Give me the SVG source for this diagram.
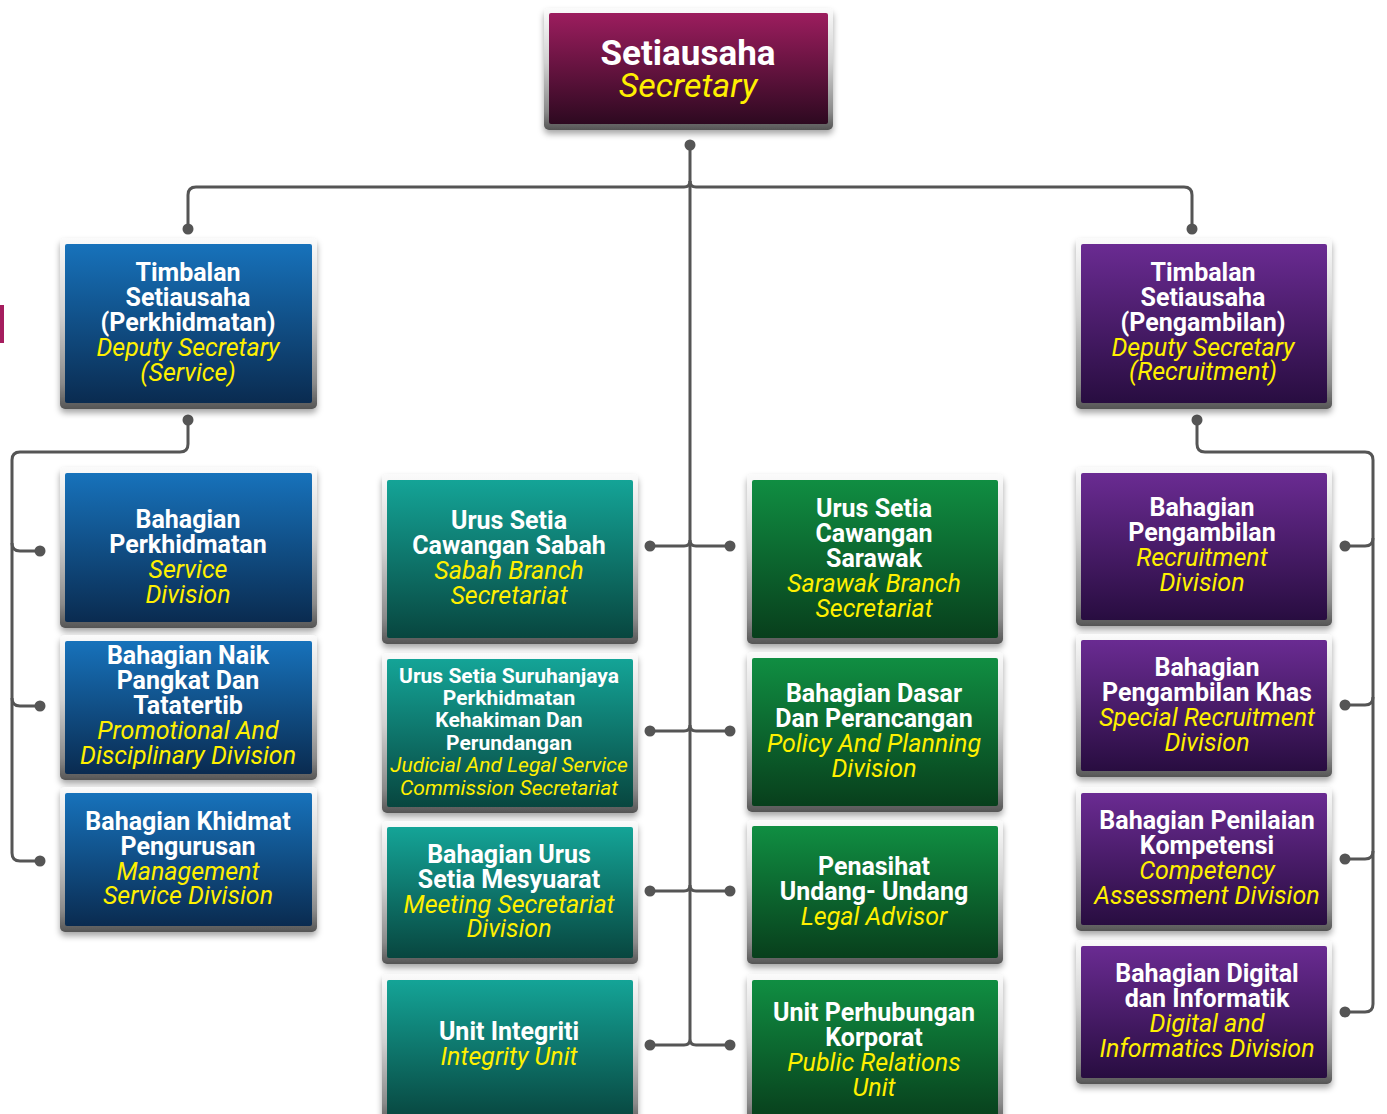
<svg xmlns="http://www.w3.org/2000/svg" width="1387" height="1114" viewBox="0 0 1387 1114">
<defs>
<linearGradient id="gMag" x1="0" y1="0" x2="0" y2="1"><stop offset="0" stop-color="#9c1d5e"/><stop offset="1" stop-color="#2d0920"/></linearGradient>
<linearGradient id="gBlue" x1="0" y1="0" x2="0" y2="1"><stop offset="0" stop-color="#1772bb"/><stop offset="1" stop-color="#0a2b50"/></linearGradient>
<linearGradient id="gTeal" x1="0" y1="0" x2="0" y2="1"><stop offset="0" stop-color="#14a497"/><stop offset="1" stop-color="#08463f"/></linearGradient>
<linearGradient id="gGreen" x1="0" y1="0" x2="0" y2="1"><stop offset="0" stop-color="#108e42"/><stop offset="1" stop-color="#083f1c"/></linearGradient>
<linearGradient id="gPurple" x1="0" y1="0" x2="0" y2="1"><stop offset="0" stop-color="#6a2b92"/><stop offset="1" stop-color="#280d40"/></linearGradient>
<linearGradient id="gFrame" x1="0" y1="0" x2="0" y2="1"><stop offset="0" stop-color="#fbfbfb"/><stop offset="0.45" stop-color="#d0d0d0"/><stop offset="0.85" stop-color="#8a8a8a"/><stop offset="1" stop-color="#555"/></linearGradient>
<filter id="sh" x="-10%" y="-10%" width="120%" height="130%"><feDropShadow dx="0" dy="4" stdDeviation="3" flood-color="#000" flood-opacity="0.35"/></filter>
</defs>
<style>
.fr{fill:url(#gFrame);filter:url(#sh)}
.t{font-family:Roboto,"Liberation Sans",sans-serif;text-anchor:middle;font-size:25px}
.b{font-weight:bold;fill:#ffffff}
.i{font-style:italic;fill:#fff000}
.s{font-size:21px}
.con{fill:none;stroke:#555;stroke-width:3}
.dot{fill:#555}
</style>
<rect x="0" y="305" width="4" height="38" fill="#a51d5e"/>
<g id="connectors">
<path class="con" d="M690,145 V1039"/>
<path class="con" d="M188,229 V195 Q188,187 196,187 H684 Q690,187 690,181"/>
<path class="con" d="M1192,229 V195 Q1192,187 1184,187 H696 Q690,187 690,181"/>
<path class="con" d="M650,546 H684 Q690,546 690,540 M730,546 H696 Q690,546 690,540"/>
<path class="con" d="M650,731 H684 Q690,731 690,725 M730,731 H696 Q690,731 690,725"/>
<path class="con" d="M650,891 H684 Q690,891 690,885 M730,891 H696 Q690,891 690,885"/>
<path class="con" d="M650,1045 H684 Q690,1045 690,1039 M730,1045 H696 Q690,1045 690,1039"/>
<path class="con" d="M188,420 V444 Q188,452 180,452 H20 Q12,452 12,460 V853 Q12,861 20,861 H40"/>
<path class="con" d="M12,543 Q12,551 20,551 H40 M12,698 Q12,706 20,706 H40"/>
<path class="con" d="M1197,420 V444 Q1197,452 1205,452 H1365 Q1373,452 1373,460 V1004 Q1373,1012 1365,1012 H1345"/>
<path class="con" d="M1373,538 Q1373,546 1365,546 H1345 M1373,697 Q1373,705 1365,705 H1345 M1373,851 Q1373,859 1365,859 H1345"/>
<circle class="dot" cx="690" cy="145" r="5.5"/>
<circle class="dot" cx="188" cy="229" r="5.5"/>
<circle class="dot" cx="1192" cy="229" r="5.5"/>
<circle class="dot" cx="188" cy="420" r="5.5"/>
<circle class="dot" cx="1197" cy="420" r="5.5"/>
<circle class="dot" cx="40" cy="551" r="5.5"/>
<circle class="dot" cx="40" cy="706" r="5.5"/>
<circle class="dot" cx="40" cy="861" r="5.5"/>
<circle class="dot" cx="1345" cy="546" r="5.5"/>
<circle class="dot" cx="1345" cy="705" r="5.5"/>
<circle class="dot" cx="1345" cy="859" r="5.5"/>
<circle class="dot" cx="1345" cy="1012" r="5.5"/>
<circle class="dot" cx="650" cy="546" r="5.5"/>
<circle class="dot" cx="730" cy="546" r="5.5"/>
<circle class="dot" cx="650" cy="731" r="5.5"/>
<circle class="dot" cx="730" cy="731" r="5.5"/>
<circle class="dot" cx="650" cy="891" r="5.5"/>
<circle class="dot" cx="730" cy="891" r="5.5"/>
<circle class="dot" cx="650" cy="1045" r="5.5"/>
<circle class="dot" cx="730" cy="1045" r="5.5"/>
</g>
<g id="n-secretary">
<rect class="fr" x="544" y="8" width="289" height="122" rx="5"/>
<rect x="549" y="13" width="279" height="111" rx="2" fill="url(#gMag)"/>
<text class="t b" x="688" y="65" style="font-size:35px">Setiausaha</text>
<text class="t i" x="688" y="97" style="font-size:34px">Secretary</text>
</g>
<g id="n-ts-service">
<rect class="fr" x="60" y="238" width="257" height="171" rx="5"/>
<rect x="65" y="244" width="247" height="159" rx="2" fill="url(#gBlue)"/>
<text class="t b" x="188"><tspan x="188" y="281">Timbalan</tspan><tspan x="188" y="306">Setiausaha</tspan><tspan x="188" y="331">(Perkhidmatan)</tspan></text>
<text class="t i" x="188"><tspan x="188" y="356">Deputy Secretary</tspan><tspan x="188" y="381">(Service)</tspan></text>
</g>
<g id="n-ts-recruit">
<rect class="fr" x="1076" y="238" width="256" height="171" rx="5"/>
<rect x="1081" y="244" width="246" height="159" rx="2" fill="url(#gPurple)"/>
<text class="t b"><tspan x="1203" y="281">Timbalan</tspan><tspan x="1203" y="306">Setiausaha</tspan><tspan x="1203" y="331">(Pengambilan)</tspan></text>
<text class="t i"><tspan x="1203" y="356">Deputy Secretary</tspan><tspan x="1203" y="380">(Recruitment)</tspan></text>
</g>
<g id="n-service">
<rect class="fr" x="60" y="467" width="257" height="161" rx="5"/>
<rect x="65" y="473" width="247" height="149" rx="2" fill="url(#gBlue)"/>
<text class="t b"><tspan x="188" y="528">Bahagian</tspan><tspan x="188" y="553">Perkhidmatan</tspan></text>
<text class="t i"><tspan x="188" y="578">Service</tspan><tspan x="188" y="603">Division</tspan></text>
</g>
<g id="n-promo">
<rect class="fr" x="60" y="635" width="257" height="145" rx="5"/>
<rect x="65" y="641" width="247" height="133" rx="2" fill="url(#gBlue)"/>
<text class="t b"><tspan x="188" y="664">Bahagian Naik</tspan><tspan x="188" y="689">Pangkat Dan</tspan><tspan x="188" y="714">Tatatertib</tspan></text>
<text class="t i"><tspan x="188" y="739">Promotional And</tspan><tspan x="188" y="764">Disciplinary Division</tspan></text>
</g>
<g id="n-mgmt">
<rect class="fr" x="60" y="787" width="257" height="145" rx="5"/>
<rect x="65" y="793" width="247" height="133" rx="2" fill="url(#gBlue)"/>
<text class="t b"><tspan x="188" y="830">Bahagian Khidmat</tspan><tspan x="188" y="855">Pengurusan</tspan></text>
<text class="t i"><tspan x="188" y="880">Management</tspan><tspan x="188" y="904">Service Division</tspan></text>
</g>
<g id="n-sabah">
<rect class="fr" x="382" y="474" width="256" height="170" rx="5"/>
<rect x="387" y="480" width="246" height="158" rx="2" fill="url(#gTeal)"/>
<text class="t b"><tspan x="509" y="529">Urus Setia</tspan><tspan x="509" y="554">Cawangan Sabah</tspan></text>
<text class="t i"><tspan x="509" y="579">Sabah Branch</tspan><tspan x="509" y="604">Secretariat</tspan></text>
</g>
<g id="n-judicial">
<rect class="fr" x="382" y="653" width="256" height="160" rx="5"/>
<rect x="387" y="659" width="246" height="148" rx="2" fill="url(#gTeal)"/>
<text class="t b s"><tspan x="509" y="683">Urus Setia Suruhanjaya</tspan><tspan x="509" y="705">Perkhidmatan</tspan><tspan x="509" y="727">Kehakiman Dan</tspan><tspan x="509" y="750">Perundangan</tspan></text>
<text class="t i s"><tspan x="509" y="772">Judicial And Legal Service</tspan><tspan x="509" y="795">Commission Secretariat</tspan></text>
</g>
<g id="n-meeting">
<rect class="fr" x="382" y="821" width="256" height="143" rx="5"/>
<rect x="387" y="827" width="246" height="131" rx="2" fill="url(#gTeal)"/>
<text class="t b"><tspan x="509" y="863">Bahagian Urus</tspan><tspan x="509" y="888">Setia Mesyuarat</tspan></text>
<text class="t i"><tspan x="509" y="913">Meeting Secretariat</tspan><tspan x="509" y="937">Division</tspan></text>
</g>
<g id="n-integrity">
<rect class="fr" x="382" y="974" width="256" height="152" rx="5"/>
<rect x="387" y="980" width="246" height="140" rx="2" fill="url(#gTeal)"/>
<text class="t b"><tspan x="509" y="1040">Unit Integriti</tspan></text>
<text class="t i"><tspan x="509" y="1065">Integrity Unit</tspan></text>
</g>
<g id="n-sarawak">
<rect class="fr" x="747" y="474" width="256" height="170" rx="5"/>
<rect x="752" y="480" width="246" height="158" rx="2" fill="url(#gGreen)"/>
<text class="t b"><tspan x="874" y="517">Urus Setia</tspan><tspan x="874" y="542">Cawangan</tspan><tspan x="874" y="567">Sarawak</tspan></text>
<text class="t i"><tspan x="874" y="592">Sarawak Branch</tspan><tspan x="874" y="617">Secretariat</tspan></text>
</g>
<g id="n-policy">
<rect class="fr" x="747" y="652" width="256" height="160" rx="5"/>
<rect x="752" y="658" width="246" height="148" rx="2" fill="url(#gGreen)"/>
<text class="t b"><tspan x="874" y="702">Bahagian Dasar</tspan><tspan x="874" y="727">Dan Perancangan</tspan></text>
<text class="t i"><tspan x="874" y="752">Policy And Planning</tspan><tspan x="874" y="777">Division</tspan></text>
</g>
<g id="n-legal">
<rect class="fr" x="747" y="820" width="256" height="144" rx="5"/>
<rect x="752" y="826" width="246" height="132" rx="2" fill="url(#gGreen)"/>
<text class="t b"><tspan x="874" y="875">Penasihat</tspan><tspan x="874" y="900">Undang- Undang</tspan></text>
<text class="t i"><tspan x="874" y="925">Legal Advisor</tspan></text>
</g>
<g id="n-pr">
<rect class="fr" x="747" y="974" width="256" height="152" rx="5"/>
<rect x="752" y="980" width="246" height="140" rx="2" fill="url(#gGreen)"/>
<text class="t b"><tspan x="874" y="1021">Unit Perhubungan</tspan><tspan x="874" y="1046">Korporat</tspan></text>
<text class="t i"><tspan x="874" y="1071">Public Relations</tspan><tspan x="874" y="1096">Unit</tspan></text>
</g>
<g id="n-recruit">
<rect class="fr" x="1076" y="467" width="256" height="159" rx="5"/>
<rect x="1081" y="473" width="246" height="147" rx="2" fill="url(#gPurple)"/>
<text class="t b"><tspan x="1202" y="516">Bahagian</tspan><tspan x="1202" y="541">Pengambilan</tspan></text>
<text class="t i"><tspan x="1202" y="566">Recruitment</tspan><tspan x="1202" y="591">Division</tspan></text>
</g>
<g id="n-special">
<rect class="fr" x="1076" y="634" width="256" height="143" rx="5"/>
<rect x="1081" y="640" width="246" height="131" rx="2" fill="url(#gPurple)"/>
<text class="t b"><tspan x="1207" y="676">Bahagian</tspan><tspan x="1207" y="701">Pengambilan Khas</tspan></text>
<text class="t i"><tspan x="1207" y="726">Special Recruitment</tspan><tspan x="1207" y="751">Division</tspan></text>
</g>
<g id="n-competency">
<rect class="fr" x="1076" y="787" width="256" height="144" rx="5"/>
<rect x="1081" y="793" width="246" height="132" rx="2" fill="url(#gPurple)"/>
<text class="t b"><tspan x="1207" y="829">Bahagian Penilaian</tspan><tspan x="1207" y="854">Kompetensi</tspan></text>
<text class="t i"><tspan x="1207" y="879">Competency</tspan><tspan x="1207" y="904">Assessment Division</tspan></text>
</g>
<g id="n-digital">
<rect class="fr" x="1076" y="940" width="256" height="144" rx="5"/>
<rect x="1081" y="946" width="246" height="132" rx="2" fill="url(#gPurple)"/>
<text class="t b"><tspan x="1207" y="982">Bahagian Digital</tspan><tspan x="1207" y="1007">dan Informatik</tspan></text>
<text class="t i"><tspan x="1207" y="1032">Digital and</tspan><tspan x="1207" y="1057">Informatics Division</tspan></text>
</g>
</svg>
